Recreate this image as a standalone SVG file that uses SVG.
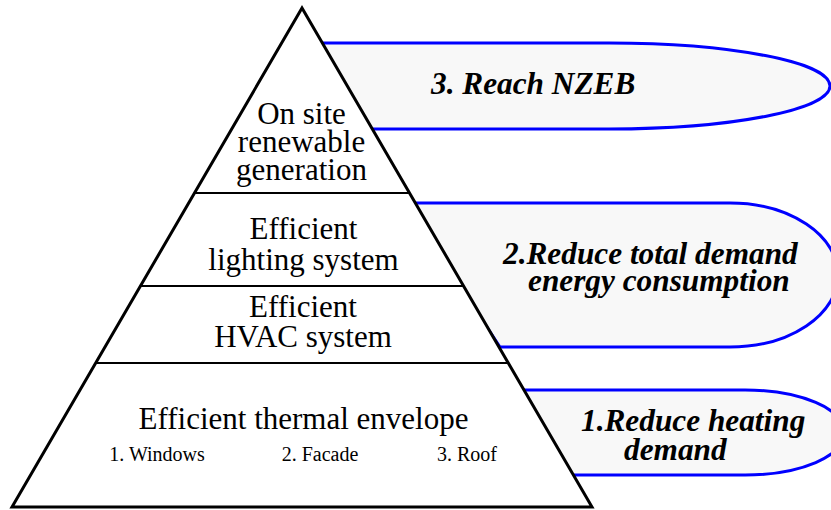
<svg xmlns="http://www.w3.org/2000/svg" width="831" height="510" viewBox="0 0 831 510">
<style>
.goal{fill:#f8f8f8;stroke:#0000ff;stroke-width:3}
.tri{fill:#ffffff;stroke:#000000;stroke-width:3;stroke-linejoin:miter}
.div{stroke:#000000;stroke-width:2}
text{font-family:'Liberation Serif','Times New Roman',serif;fill:#000}
.lbl{font-size:31px;text-anchor:middle}
.sub{font-size:20px;text-anchor:middle}
.g{font-size:31.3px;font-weight:bold;font-style:italic}
</style>
<g id="goals">
<g id="goal3"><path class="goal" d="M 310 43 L 609 43 A 221 43 0 0 1 609 129 L 370 129 Z"/></g>
<g id="goal2"><path class="goal" d="M 405 203 L 730 203 A 108 72 0 0 1 730 347 L 500 347 Z"/></g>
<g id="goal1"><path class="goal" d="M 515 390 L 745 390 A 100 42.5 0 0 1 745 475 L 570 475 Z"/></g>
</g>
<g id="pyramid">
<polygon class="tri" points="302,8 12,507 592,507"/>
<line class="div" x1="195" y1="193" x2="409" y2="193"/>
<line class="div" x1="141" y1="286" x2="463" y2="286"/>
<line class="div" x1="96" y1="363" x2="508" y2="363"/>
</g>
<g id="level4"><text class="lbl" x="301.5" y="124">On site</text><text class="lbl" x="301.5" y="152">renewable</text><text class="lbl" x="301.5" y="180">generation</text></g>
<g id="level3"><text class="lbl" x="303.5" y="239">Efficient</text><text class="lbl" x="303.5" y="270">lighting system</text></g>
<g id="level2"><text class="lbl" x="303" y="317">Efficient</text><text class="lbl" x="303" y="347">HVAC system</text></g>
<g id="level1"><text class="lbl" x="303.5" y="429">Efficient thermal envelope</text>
<text class="sub" x="157" y="461">1. Windows</text><text class="sub" x="320" y="461">2. Facade</text><text class="sub" x="467" y="461">3. Roof</text></g>
<g id="label3"><text class="g" x="431" y="94">3. Reach NZEB</text></g>
<g id="label2"><text class="g" x="503" y="264">2.Reduce total demand</text><text class="g" x="528" y="291">energy consumption</text></g>
<g id="label1"><text class="g" x="581" y="431">1.Reduce heating</text><text class="g" x="624" y="460">demand</text></g>
</svg>
